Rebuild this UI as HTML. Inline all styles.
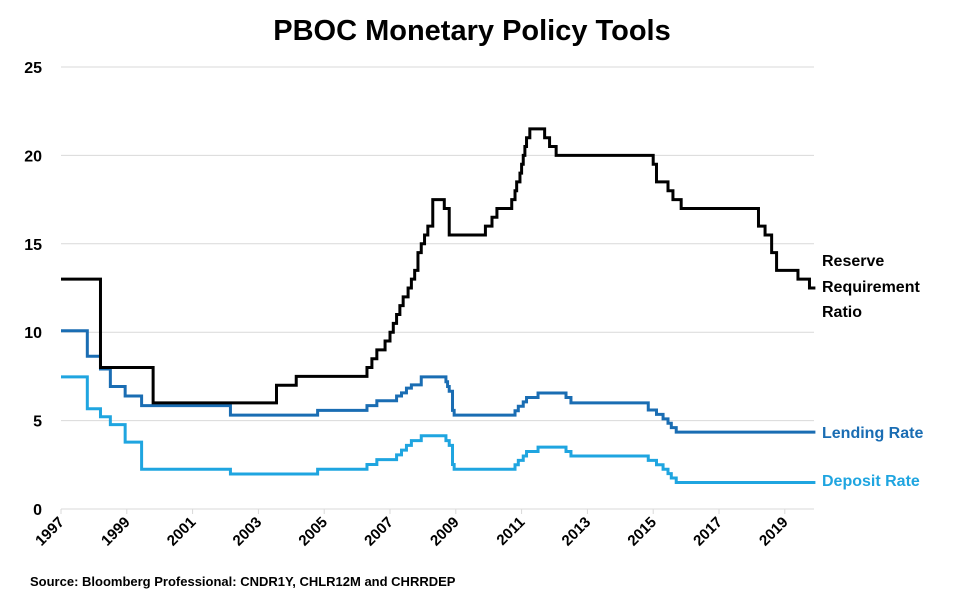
<!DOCTYPE html>
<html><head><meta charset="utf-8"><style>
body{margin:0;background:#fff;}
svg{display:block;font-family:"Liberation Sans",sans-serif;}
</style></head><body>
<svg id="chart" width="954" height="610">
<text x="472" y="40" text-anchor="middle" font-size="29" font-weight="bold">PBOC Monetary Policy Tools</text>
<g id="grid"></g><g id="lines"></g><g id="xlabels"></g>
<text x="822" y="266" font-size="16" font-weight="bold" fill="#000">Reserve</text>
<text x="822" y="292" font-size="16" font-weight="bold" fill="#000">Requirement</text>
<text x="822" y="317" font-size="16" font-weight="bold" fill="#000">Ratio</text>
<text x="822" y="438" font-size="16" font-weight="bold" fill="#1a6db3">Lending Rate</text>
<text x="822" y="486" font-size="16" font-weight="bold" fill="#1fa5e0">Deposit Rate</text>
<text x="30" y="586" font-size="13" font-weight="bold">Source: Bloomberg Professional: CNDR1Y, CHLR12M and CHRRDEP</text>
</svg>
<script>
const yTicks=[0,5,10,15,20,25];
const xTicks=[1997,1999,2001,2003,2005,2007,2009,2011,2013,2015,2017,2019];
const endTime=2019.93;
const rrrTimes=[1997,1998.2,1999.8,2003.55,2004.15,2006.3,2006.45,2006.6,2006.85,2007.0,2007.1,2007.2,2007.3,2007.4,2007.55,2007.65,2007.75,2007.85,2007.95,2008.05,2008.15,2008.3,2008.65,2008.8,2009.9,2010.1,2010.25,2010.7,2010.8,2010.85,2010.95,2011.0,2011.05,2011.1,2011.15,2011.25,2011.7,2011.85,2012.05,2015.0,2015.1,2015.45,2015.6,2015.85,2018.2,2018.4,2018.6,2018.75,2019.4,2019.75];
const rrrValues=[13,8,6,7,7.5,8,8.5,9,9.5,10,10.5,11,11.5,12,12.5,13,13.5,14.5,15,15.5,16,17.5,17,15.5,16,16.5,17,17.5,18,18.5,19,19.5,20,20.5,21,21.5,21,20.5,20,19.5,18.5,18,17.5,17,16,15.5,14.5,13.5,13,12.5];
const lendTimes=[1997,1997.8,1998.2,1998.5,1998.95,1999.45,2002.15,2004.8,2006.3,2006.6,2007.2,2007.35,2007.5,2007.65,2007.95,2008.7,2008.75,2008.8,2008.9,2008.95,2010.8,2010.9,2011.05,2011.15,2011.5,2012.35,2012.5,2014.85,2015.1,2015.3,2015.45,2015.55,2015.7];
const lendValues=[10.08,8.64,7.92,6.93,6.39,5.85,5.31,5.58,5.85,6.12,6.39,6.57,6.84,7.02,7.47,7.2,6.93,6.66,5.58,5.31,5.56,5.81,6.06,6.31,6.56,6.31,6.0,5.6,5.35,5.1,4.85,4.6,4.35];
const depTimes=[1997,1997.8,1998.2,1998.5,1998.95,1999.45,2002.15,2004.8,2006.3,2006.6,2007.2,2007.35,2007.5,2007.65,2007.95,2008.7,2008.8,2008.9,2008.95,2010.8,2010.9,2011.05,2011.15,2011.5,2012.35,2012.5,2014.85,2015.1,2015.3,2015.45,2015.55,2015.7];
const depValues=[7.47,5.67,5.22,4.77,3.78,2.25,1.98,2.25,2.52,2.79,3.06,3.33,3.6,3.87,4.14,3.87,3.6,2.52,2.25,2.5,2.75,3.0,3.25,3.5,3.25,3.0,2.75,2.5,2.25,2.0,1.75,1.5];
const NS="http://www.w3.org/2000/svg";
const x0=61,pxPerYear=32.9,yBase=509,pxPerUnit=17.68,plotRight=814;
function xs(t){return x0+(t-1997)*pxPerYear;}
function ys(v){return yBase-v*pxPerUnit;}
const grid=document.getElementById('grid');
yTicks.forEach(v=>{
 const l=document.createElementNS(NS,'line');
 
 
 l.setAttribute('x1',x0);l.setAttribute('x2',plotRight);l.setAttribute('y1',ys(v));l.setAttribute('y2',ys(v));
 l.setAttribute('stroke','#d9d9d9');l.setAttribute('stroke-width','1');
 grid.appendChild(l);
 const t=document.createElementNS(NS,'text');
 
 
 t.setAttribute('x',42);t.setAttribute('y',ys(v)+6);t.setAttribute('text-anchor','end');
 t.setAttribute('font-size','16');t.setAttribute('font-weight','bold');t.textContent=v;
 grid.appendChild(t);
});
const xl=document.getElementById('xlabels');
xTicks.forEach(yr=>{
 const x=xs(yr);
 const tk=document.createElementNS(NS,'line');
 
 
 tk.setAttribute('x1',x);tk.setAttribute('x2',x);tk.setAttribute('y1',yBase);tk.setAttribute('y2',yBase+5);
 tk.setAttribute('stroke','#d9d9d9');
 xl.appendChild(tk);
 const t=document.createElementNS(NS,'text');
 
 
 t.setAttribute('x',x+4);t.setAttribute('y',yBase+14);t.setAttribute('text-anchor','end');
 t.setAttribute('font-size','15');t.setAttribute('font-weight','bold');
 t.setAttribute('transform','rotate(-45 '+(x+4)+' '+(yBase+14)+')');
 t.textContent=yr;
 xl.appendChild(t);
});
const lines=document.getElementById('lines');
function step(times,vals,color,name){
 let d='';
 for(let i=0;i<times.length;i++){
  const x=xs(times[i]),y=ys(vals[i]);
  if(i===0)d+='M'+x+' '+y;else d+=' V'+y;
  const nx=i+1<times.length?xs(times[i+1]):xs(endTime);
  d+=' H'+nx;
 }
 const p=document.createElementNS(NS,'path');
 
 
 p.setAttribute('d',d);p.setAttribute('fill','none');p.setAttribute('stroke',color);p.setAttribute('stroke-width','3');
 lines.appendChild(p);
}
step(depTimes,depValues,'#1fa5e0','deposit-rate-line');
step(lendTimes,lendValues,'#1a6db3','lending-rate-line');
step(rrrTimes,rrrValues,'#000','rrr-line');
</script>
</body></html>
